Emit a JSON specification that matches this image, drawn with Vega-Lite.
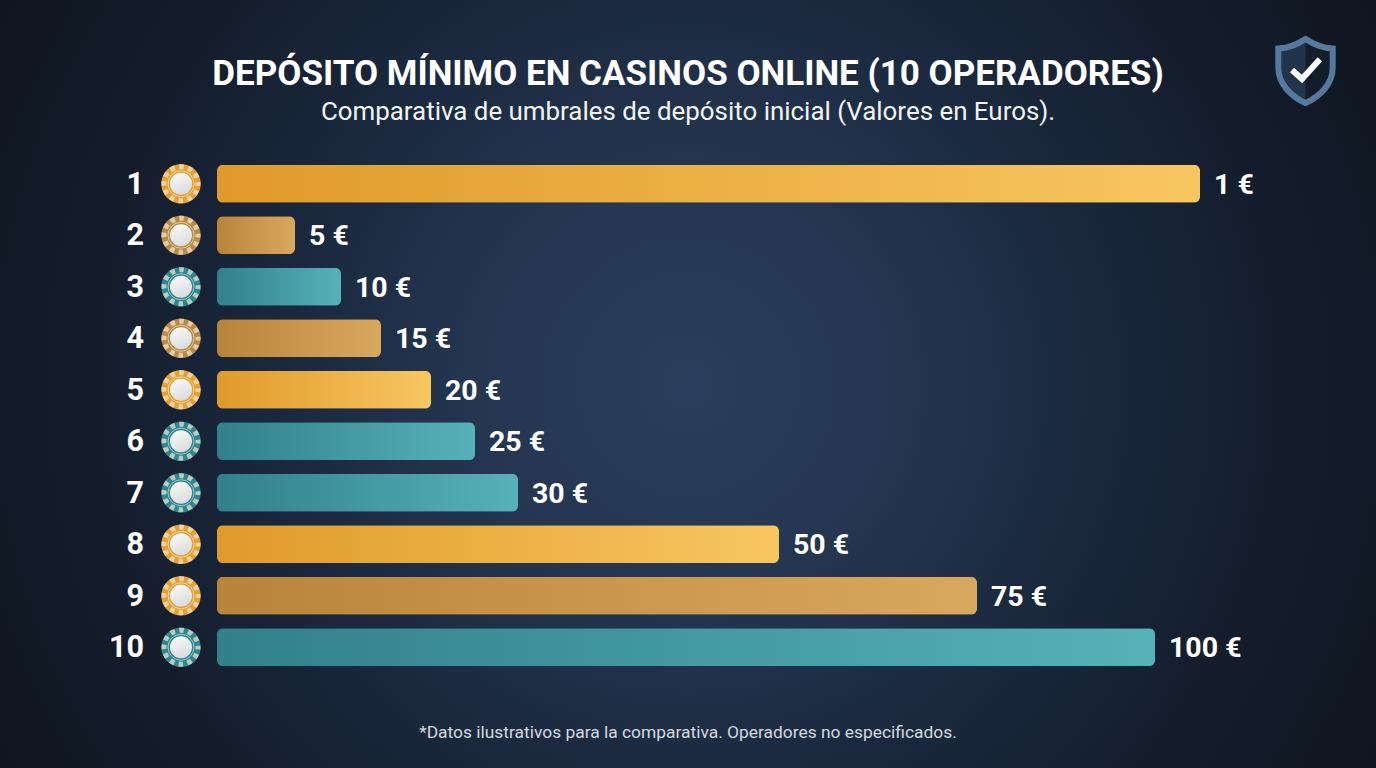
{
  "$schema": "https://vega.github.io/schema/vega-lite/v6.json",
  "description": "Deposito minimo en casinos online, 10 operadores.",
  "width": 1376,
  "height": 768,
  "autosize": "none",
  "padding": 0,
  "background": "#10161f",
  "config": {
    "view": {"stroke": null},
    "axis": {"disable": true},
    "font": "Roboto"
  },
  "title": {
    "text": "DEPÓSITO MÍNIMO EN CASINOS ONLINE (10 OPERADORES)",
    "subtitle": "Comparativa de umbrales de depósito inicial (Valores en Euros).",
    "anchor": "middle",
    "frame": "group",
    "dy": 129,
    "font": "Roboto",
    "fontSize": 35,
    "fontWeight": 700,
    "color": "#ffffff",
    "subtitleFont": "Roboto",
    "subtitleFontSize": 25.9,
    "subtitleColor": "#f2f4f7",
    "subtitlePadding": 8
  },
  "data": {
    "values": [
      {"puesto": "1", "deposito": "1 €", "longitud": 983, "barra": "oro", "ficha": "oro"},
      {"puesto": "2", "deposito": "5 €", "longitud": 78, "barra": "cobre", "ficha": "cobre"},
      {"puesto": "3", "deposito": "10 €", "longitud": 124, "barra": "verde", "ficha": "verde"},
      {"puesto": "4", "deposito": "15 €", "longitud": 164, "barra": "cobre", "ficha": "cobre"},
      {"puesto": "5", "deposito": "20 €", "longitud": 214, "barra": "oro", "ficha": "oro"},
      {"puesto": "6", "deposito": "25 €", "longitud": 258, "barra": "verde", "ficha": "verde"},
      {"puesto": "7", "deposito": "30 €", "longitud": 301, "barra": "verde", "ficha": "verde"},
      {"puesto": "8", "deposito": "50 €", "longitud": 562, "barra": "oro", "ficha": "oro"},
      {"puesto": "9", "deposito": "75 €", "longitud": 760, "barra": "cobre", "ficha": "oro"},
      {"puesto": "10", "deposito": "100 €", "longitud": 938, "barra": "verde", "ficha": "verde"}
    ]
  },
  "layer": [
    {
      "data": {"values": [{"fondo": "fondo"}]},
      "mark": {
        "type": "rect",
        "color": {
          "gradient": "radial",
          "x1": 0.5, "y1": 0.5, "r1": 0,
          "x2": 0.5, "y2": 0.5, "r2": 0.62,
          "stops": [
            {"offset": 0, "color": "#2a3e5d"},
            {"offset": 0.25, "color": "#243650"},
            {"offset": 0.45, "color": "#1b2a40"},
            {"offset": 0.72, "color": "#131c2a"},
            {"offset": 1, "color": "#0e141d"}
          ]
        }
      },
      "encoding": {
        "x": {"datum": -217, "type": "quantitative", "scale": {"domain": [-217, 1159], "range": [0, 1376], "nice": false, "zero": false}},
        "x2": {"datum": 1159},
        "y": {"value": 0},
        "y2": {"value": 768}
      }
    },
    {
      "transform": [{"filter": "datum.barra == 'oro'"}],
      "mark": {
        "type": "bar", "height": 38, "cornerRadius": 6,
        "color": {"gradient": "linear", "x1": 0, "y1": 0, "x2": 1, "y2": 0,
          "stops": [{"offset": 0, "color": "#e09a2b"}, {"offset": 1, "color": "#f8c660"}]}
      },
      "encoding": {
        "x": {"field": "longitud", "type": "quantitative"},
        "y": {"field": "puesto", "type": "nominal", "sort": null,
          "scale": {"domain": ["1", "2", "3", "4", "5", "6", "7", "8", "9", "10"], "range": [158, 673], "paddingInner": 0, "paddingOuter": 0}}
      }
    },
    {
      "transform": [{"filter": "datum.barra == 'cobre'"}],
      "mark": {
        "type": "bar", "height": 38, "cornerRadius": 6,
        "color": {"gradient": "linear", "x1": 0, "y1": 0, "x2": 1, "y2": 0,
          "stops": [{"offset": 0, "color": "#b98439"}, {"offset": 1, "color": "#d8a85f"}]}
      },
      "encoding": {
        "x": {"field": "longitud", "type": "quantitative"},
        "y": {"field": "puesto", "type": "nominal", "sort": null}
      }
    },
    {
      "transform": [{"filter": "datum.barra == 'verde'"}],
      "mark": {
        "type": "bar", "height": 38, "cornerRadius": 6,
        "color": {"gradient": "linear", "x1": 0, "y1": 0, "x2": 1, "y2": 0,
          "stops": [{"offset": 0, "color": "#31808c"}, {"offset": 1, "color": "#57b1b8"}]}
      },
      "encoding": {
        "x": {"field": "longitud", "type": "quantitative"},
        "y": {"field": "puesto", "type": "nominal", "sort": null}
      }
    },
    {
      "mark": {"type": "text", "align": "left", "baseline": "middle", "dx": 14, "dy": 1, "fontSize": 28.5, "fontWeight": 700, "color": "#ffffff"},
      "encoding": {
        "x": {"field": "longitud", "type": "quantitative"},
        "y": {"field": "puesto", "type": "nominal", "sort": null},
        "text": {"field": "deposito"}
      }
    },
    {
      "mark": {"type": "text", "align": "right", "baseline": "middle", "dy": 1, "fontSize": 30.5, "fontWeight": 700, "color": "#ffffff"},
      "encoding": {
        "x": {"datum": -73, "type": "quantitative"},
        "y": {"field": "puesto", "type": "nominal", "sort": null},
        "text": {"field": "puesto"}
      }
    },
    {
      "mark": {"type": "point", "filled": true, "size": 1560, "opacity": 1},
      "encoding": {
        "x": {"datum": -36, "type": "quantitative"},
        "y": {"field": "puesto", "type": "nominal", "sort": null},
        "color": {"field": "ficha", "type": "nominal", "legend": null,
          "scale": {"domain": ["oro", "cobre", "verde"], "range": ["#e5a033", "#b98a45", "#2d8690"]}}
      }
    },
    {
      "mark": {"type": "point", "filled": false, "size": 1156, "stroke": "#f7e9cf", "strokeWidth": 5, "strokeDash": [4.6, 4.3], "strokeDashOffset": 2.3, "opacity": 0.7},
      "encoding": {
        "x": {"datum": -36, "type": "quantitative"},
        "y": {"field": "puesto", "type": "nominal", "sort": null}
      }
    },
    {
      "mark": {"type": "point", "filled": false, "size": 676, "stroke": "#ffffff", "strokeWidth": 1, "opacity": 0.55},
      "encoding": {
        "x": {"datum": -36, "type": "quantitative"},
        "y": {"field": "puesto", "type": "nominal", "sort": null}
      }
    },
    {
      "mark": {
        "type": "point", "filled": true, "size": 484, "opacity": 1,
        "color": {"gradient": "linear", "x1": 0.3, "y1": 0, "x2": 0.7, "y2": 1,
          "stops": [{"offset": 0, "color": "#f8f8f8"}, {"offset": 1, "color": "#d9dadc"}]}
      },
      "encoding": {
        "x": {"datum": -36, "type": "quantitative"},
        "y": {"field": "puesto", "type": "nominal", "sort": null}
      }
    },
    {
      "data": {"values": [{"nota": "*Datos ilustrativos para la comparativa. Operadores no especificados."}]},
      "mark": {"type": "text", "align": "center", "baseline": "middle", "fontSize": 17.4, "color": "#d5d9df"},
      "encoding": {
        "x": {"datum": 471, "type": "quantitative"},
        "y": {"value": 733},
        "text": {"field": "nota"}
      }
    },
    {
      "data": {"values": [{"icono": "escudo"}]},
      "mark": {"type": "point", "filled": true, "size": 4096, "opacity": 1, "color": "#22344c",
        "shape": "M0 -1 C.3 -.8 .55 -.72 .85 -.7 L.85 -.1 C.85 .4 .45 .8 0 1 C-.45 .8 -.85 .4 -.85 -.1 L-.85 -.7 C-.55 -.72 -.3 -.8 0 -1 Z"},
      "encoding": {"x": {"datum": 1088.5, "type": "quantitative"}, "y": {"value": 71}}
    },
    {
      "data": {"values": [{"icono": "sombra"}]},
      "mark": {"type": "point", "filled": true, "size": 4096, "opacity": 1, "color": "#141d2b",
        "shape": "M0 -1 C.3 -.8 .55 -.72 .85 -.7 L.85 -.1 C.85 .4 .45 .8 0 1 Z"},
      "encoding": {"x": {"datum": 1088.5, "type": "quantitative"}, "y": {"value": 71}}
    },
    {
      "data": {"values": [{"icono": "borde"}]},
      "mark": {"type": "point", "filled": false, "size": 4096, "opacity": 1, "stroke": "#557a9e", "strokeWidth": 6,
        "shape": "M0 -1 C.3 -.8 .55 -.72 .85 -.7 L.85 -.1 C.85 .4 .45 .8 0 1 C-.45 .8 -.85 .4 -.85 -.1 L-.85 -.7 C-.55 -.72 -.3 -.8 0 -1 Z"},
      "encoding": {"x": {"datum": 1088.5, "type": "quantitative"}, "y": {"value": 71}}
    },
    {
      "data": {"values": [{"icono": "check"}]},
      "mark": {"type": "point", "filled": false, "size": 4096, "opacity": 1, "stroke": "#ffffff", "strokeWidth": 6,
        "shape": "M-.42 -.03 L-.11 .25 L.45 -.37"},
      "encoding": {"x": {"datum": 1088.5, "type": "quantitative"}, "y": {"value": 71}}
    }
  ]
}
